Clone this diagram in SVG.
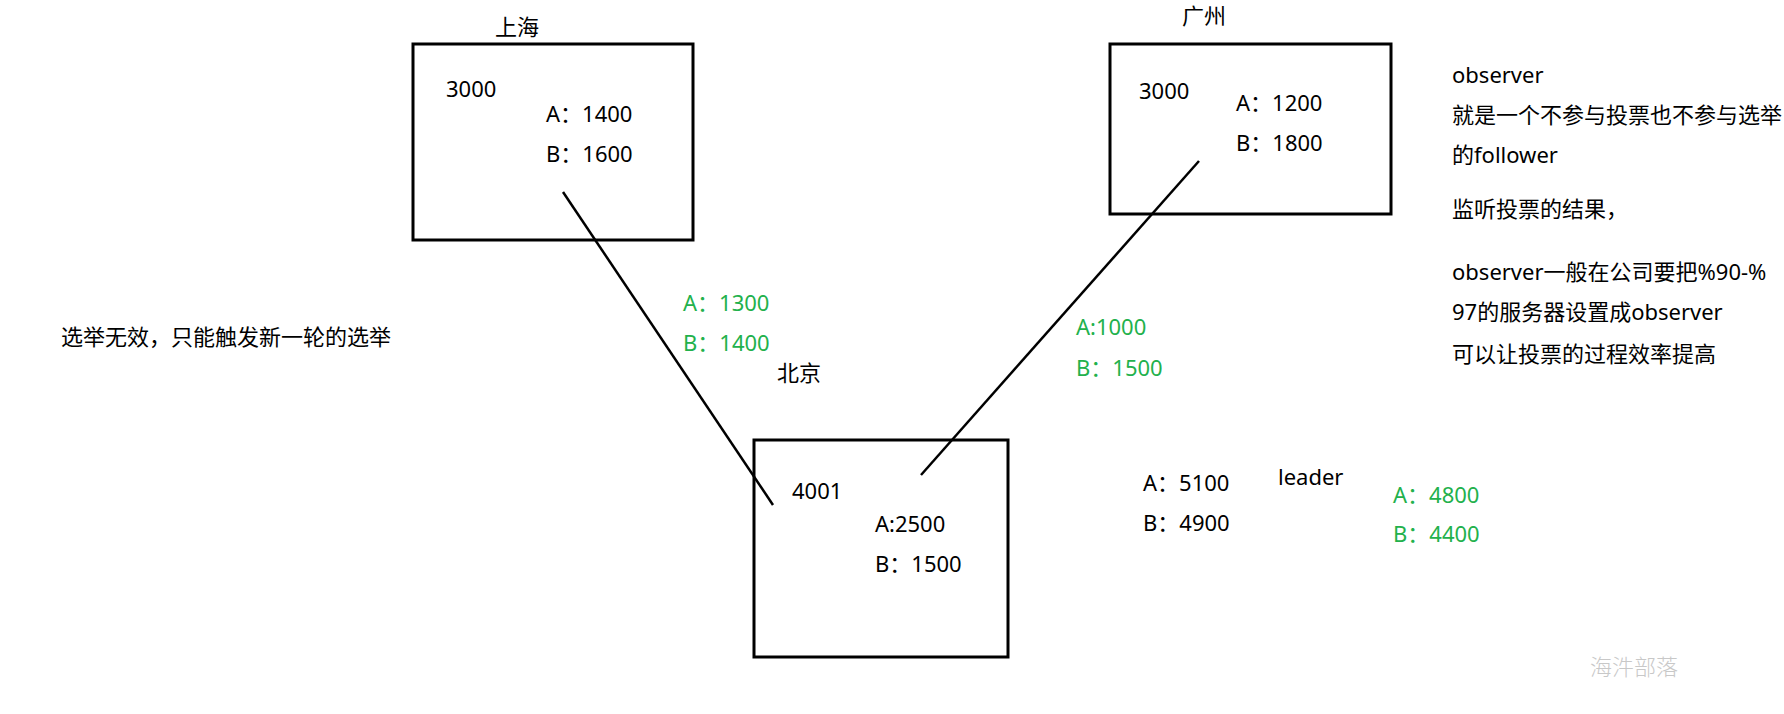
<svg xmlns="http://www.w3.org/2000/svg" width="1784" height="714" viewBox="0 0 1784 714">
<style>
text{font-family:"Noto Sans","Noto Sans CJK SC",sans-serif;font-size:22px;fill:#000}
.g{fill:#22b14c}
.box{fill:none;stroke:#000;stroke-width:3}
.ln{stroke:#000;stroke-width:2.5;fill:none}
.wm{fill:#c8c8c8;font-family:"Noto Sans CJK SC",serif;font-weight:300}
</style>
<rect width="1784" height="714" fill="#fff"/>
<g id="connectors">
<line class="ln" x1="563" y1="192" x2="773" y2="505"/>
<line class="ln" x1="1199" y1="161" x2="921" y2="475"/>
</g>
<g id="shanghai">
<rect class="box" x="413" y="44" width="280" height="196"/>
<text x="495" y="35">上海</text>
<text x="446" y="97">3000</text>
<text x="546" y="122">A：1400</text>
<text x="546" y="162">B：1600</text>
</g>
<g id="guangzhou">
<rect class="box" x="1110" y="44" width="281" height="170"/>
<text x="1182" y="24">广州</text>
<text x="1139" y="99">3000</text>
<text x="1236" y="111">A：1200</text>
<text x="1236" y="151">B：1800</text>
</g>
<g id="beijing">
<rect class="box" x="754" y="440" width="254" height="217"/>
<text x="777" y="381">北京</text>
<text x="792" y="499">4001</text>
<text x="875" y="532">A:2500</text>
<text x="875" y="572">B：1500</text>
</g>
<g id="votes-sh-bj">
<text class="g" x="683" y="311">A：1300</text>
<text class="g" x="683" y="351">B：1400</text>
</g>
<g id="votes-gz-bj">
<text class="g" x="1076" y="335">A:1000</text>
<text class="g" x="1076" y="376">B：1500</text>
</g>
<g id="note-invalid">
<text x="61" y="345">选举无效，只能触发新一轮的选举</text>
</g>
<g id="observer-note">
<text x="1452" y="83">observer</text>
<text x="1452" y="123">就是一个不参与投票也不参与选举</text>
<text x="1452" y="163">的follower</text>
<text x="1452" y="217">监听投票的结果，</text>
<text x="1452" y="280">observer一般在公司要把%90-%</text>
<text x="1452" y="320">97的服务器设置成observer</text>
<text x="1452" y="362">可以让投票的过程效率提高</text>
</g>
<g id="leader-result">
<text x="1143" y="491">A：5100</text>
<text x="1143" y="531">B：4900</text>
<text x="1278" y="485">leader</text>
<text class="g" x="1393" y="503">A：4800</text>
<text class="g" x="1393" y="542">B：4400</text>
</g>
<text class="wm" x="1590" y="675">海汼部落</text>
</svg>
